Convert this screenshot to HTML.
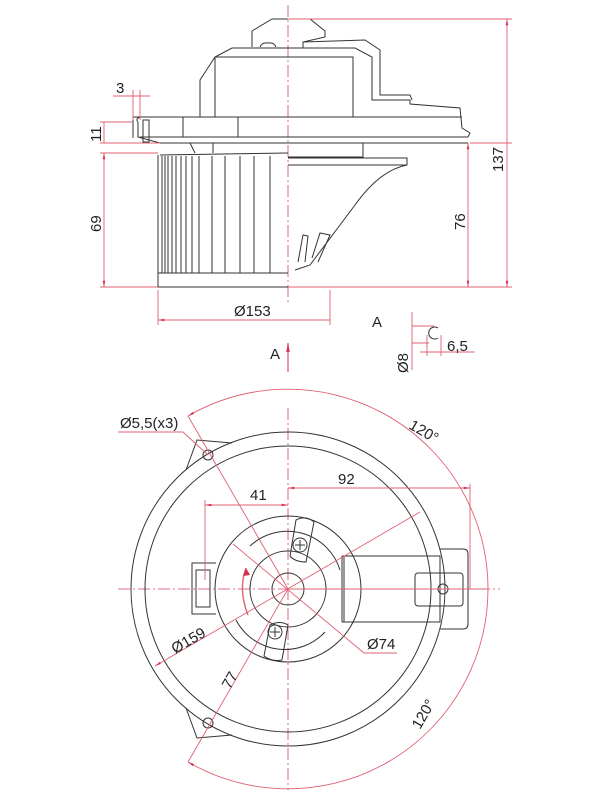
<!DOCTYPE html>
<html><head><style>
html,body{margin:0;padding:0;background:#fff;}
svg{display:block;}
text{font-family:"Liberation Sans",sans-serif;font-size:15px;fill:#222;}
.k{fill:none;stroke:#333;stroke-width:1;}
.r{fill:none;stroke:#e06070;stroke-width:0.9;}
.c{fill:none;stroke:#d84060;stroke-width:0.8;stroke-dasharray:12,3,2,3;}
</style></head><body>
<svg width="600" height="800" viewBox="0 0 600 800" xmlns="http://www.w3.org/2000/svg">
<defs>
<marker id="a" viewBox="0 0 10 10" refX="10" refY="5" markerWidth="7" markerHeight="7" orient="auto-start-reverse"><path d="M0,3 L10,5 L0,7 z" fill="#d83050"/></marker>
</defs>

<!-- ===== SIDE VIEW ===== -->
<line class="c" x1="288" y1="5" x2="288" y2="305"/>
<path class="k" d="M252,47 L252,31 L272,19 L310,19 L325,31 L325,37 L303,42 L303,48"/>
<path class="k" d="M200,117 L200,80 L215,57 L232,48 L355,48 L372,57 L372,100 L410,100 L410,104 L460,108 L462,128 L470,133 L468,137"/>
<path class="k" d="M215,57 L215,117 M215,57 L353,57 L353,117"/>
<path class="k" d="M303,42 L365,40 L380,50 L380,95 L410,95 L412,100"/>
<path class="k" d="M260,47 Q262,42 268,43 Q274,42 276,47"/>
<path class="k" d="M133,117 L462,117 M140,137 L468,137 M160,143 L468,143"/>
<rect class="k" x="183" y="117" width="55" height="20"/>
<path class="k" d="M133,117 L133,138 M138,122 L138,137 L160,143 M140,117 Q135,119 138,122"/>
<rect class="k" x="143" y="120" width="6" height="22" fill="#ddd"/>
<path class="k" d="M190,143 L195,153 M213,143 L213,153 M363,143 L363,157 L288,157"/>
<path class="k" d="M158,287 L288,287 M160,155 L288,153 M158,273 L288,273 M158,155 L158,287"/>
<g class="k">
<line x1="162" y1="156" x2="162" y2="273"/><line x1="165" y1="156" x2="165" y2="273"/>
<line x1="168" y1="156" x2="168" y2="273"/><line x1="172" y1="156" x2="172" y2="273"/>
<line x1="176" y1="156" x2="176" y2="273"/><line x1="181" y1="156" x2="181" y2="273"/>
<line x1="186" y1="156" x2="186" y2="273"/><line x1="192" y1="156" x2="192" y2="273"/>
<line x1="199" y1="156" x2="199" y2="273"/><line x1="212" y1="156" x2="212" y2="273"/>
<line x1="225" y1="156" x2="225" y2="273"/><line x1="240" y1="156" x2="240" y2="273"/>
<line x1="254" y1="156" x2="254" y2="273"/><line x1="270" y1="156" x2="270" y2="273"/>
</g>
<path class="k" d="M288,158 L407,158 L407,165 Q380,170 355,205 L310,265 L295,270 M288,165 L407,165"/>
<path class="k" d="M298,262 L303,235 L308,236 L305,262 M312,258 L320,233 L330,235 L318,262"/>
<path class="r" d="M288,19 L512,19 M470,143 L512,143 M288,287 L512,287 M100,153 L158,153 M100,287 L158,287 M100,122 L133,122 M100,143 L160,143 M158,290 L158,325 M330,290 L330,325"/>
<line class="r" x1="507" y1="19" x2="507" y2="287" marker-start="url(#a)" marker-end="url(#a)"/>
<line class="r" x1="468" y1="143" x2="468" y2="287" marker-start="url(#a)" marker-end="url(#a)"/>
<line class="r" x1="104" y1="153" x2="104" y2="287" marker-start="url(#a)" marker-end="url(#a)"/>
<line class="r" x1="104" y1="122" x2="104" y2="143"/>
<line class="r" x1="158" y1="320" x2="330" y2="320" marker-start="url(#a)"/>
<path class="r" d="M113,96 L150,96 M133,90 L133,120 M140,90 L140,120"/>
<text x="116" y="93">3</text>
<text transform="translate(101,142) rotate(-90)">11</text>
<text transform="translate(101,232) rotate(-90)">69</text>
<text transform="translate(465,230) rotate(-90)">76</text>
<text transform="translate(503,172) rotate(-90)">137</text>
<text x="234" y="316">Ø153</text>

<text x="372" y="327">A</text>
<path class="k" d="M438,328 A6,6 0 1 0 438,338"/>
<path class="r" d="M412,312 L412,370 M412,326 L434,326 M412,343 L429,343 M427,335 L427,356 M441,335 L441,356 M420,352 L475,352"/>
<text transform="translate(408,373) rotate(-90)">Ø8</text>
<text x="447" y="351">6,5</text>
<line class="r" x1="288" y1="372" x2="288" y2="343" marker-end="url(#a)" style="stroke-width:1.3"/>
<text x="270" y="359">A</text>

<!-- ===== BOTTOM VIEW ===== -->
<line class="c" x1="118" y1="589" x2="500" y2="589"/>
<line class="c" x1="288" y1="408" x2="288" y2="790"/>
<path class="k" d="M186,470 L197,440 L232,443 M186,708 L197,738 L232,735"/>
<circle class="k" cx="208" cy="455" r="5"/>
<circle class="k" cx="208" cy="723" r="5"/>
<circle class="k" cx="288" cy="589" r="157"/>
<circle class="k" cx="288" cy="589" r="143"/>
<path class="k" d="M342,556 L440,556 L440,622 L342,622"/>
<path class="k" d="M440,549 L463,549 Q468,549 468,554 L468,624 Q468,629 463,629 L440,629"/>
<rect class="k" x="415" y="573" width="48" height="33" rx="3"/>
<circle class="k" cx="443" cy="589" r="5"/>
<path class="k" d="M216,563 L192,563 L192,614 L216,614"/>
<rect class="k" x="196" y="570" width="14" height="37"/>
<circle class="k" cx="288" cy="589" r="73" fill="#fff"/>
<path class="k" d="M342,556 L342,622 M344,556 L344,622"/>
<path class="k" d="M250,546 A55,55 0 0 1 340,570 M236,620 A55,55 0 0 0 325,632"/>
<circle class="k" cx="288" cy="589" r="38"/>
<circle class="k" cx="288" cy="589" r="16"/>
<path class="k" d="M296,520 Q306,515 314,522 L306,562 Q295,562 290,556 Z" fill="#fff"/>
<circle class="k" cx="300" cy="545" r="7"/>
<path class="k" d="M300,540 L300,550 M295,545 L305,545"/>
<path class="k" d="M270,625 Q280,620 288,625 L282,660 Q272,662 264,656 Z" fill="#fff"/>
<circle class="k" cx="275" cy="632" r="7"/>
<path class="k" d="M275,627 L275,637 M270,632 L280,632"/>
<path class="r" d="M246,568 Q238,590 248,615" style="stroke-width:1.4"/>
<path d="M246,568 L243,576 L250,575 z" fill="#d83050"/>
<path class="r" d="M188,416 L288,589 L188,762 M288,589 L488,589"/>
<path class="r" d="M188,416 A200,200 0 0 1 488,589 A200,200 0 0 1 188,762" marker-start="url(#a)" marker-end="url(#a)"/>
<line class="r" x1="155" y1="666" x2="420" y2="512" marker-start="url(#a)"/>
<path class="r" d="M233,544 L364,653 L397,653"/>
<path class="r" d="M118,432 L183,432 L208,455"/>
<line class="r" x1="205" y1="505" x2="288" y2="505" marker-start="url(#a)" marker-end="url(#a)"/>
<line class="r" x1="288" y1="488" x2="470" y2="488" marker-start="url(#a)" marker-end="url(#a)"/>
<path class="r" d="M205,500 L205,580 M470,484 L470,589"/>
<text x="120" y="428">Ø5,5(x3)</text>
<text x="250" y="500">41</text>
<text x="338" y="484">92</text>
<text transform="translate(175,654) rotate(-30)">Ø159</text>
<text x="367" y="649">Ø74</text>
<text transform="translate(230,690) rotate(-60)">77</text>
<text transform="translate(408,428) rotate(30)">120°</text>
<text transform="translate(420,730) rotate(-60)">120°</text>
</svg>
</body></html>
